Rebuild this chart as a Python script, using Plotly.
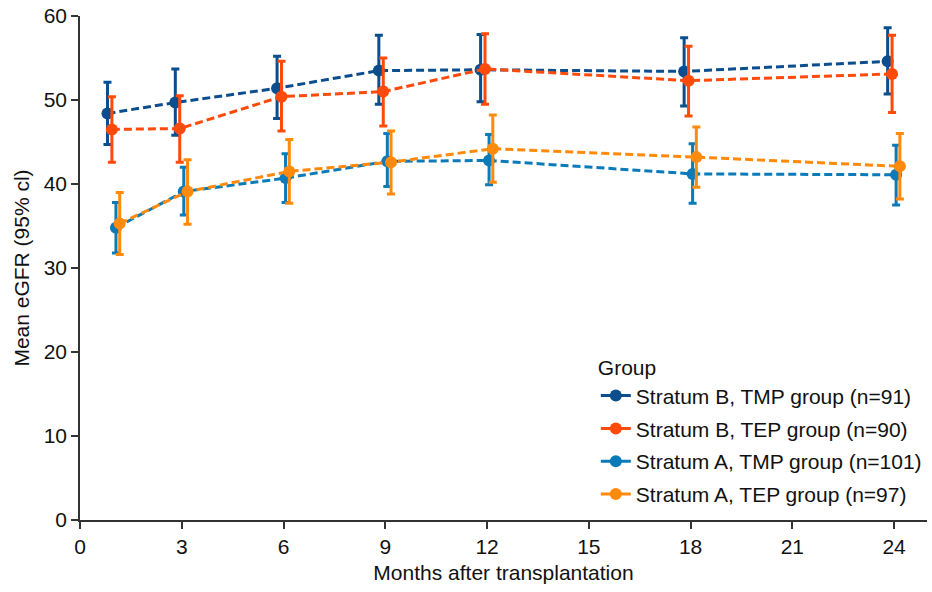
import plotly.graph_objects as go

months = [1, 3, 6, 9, 12, 18, 24]

groups = [
    "Stratum B, TMP group (n=91)",
    "Stratum B, TEP group (n=90)",
    "Stratum A, TMP group (n=101)",
    "Stratum A, TEP group (n=97)",
]

b_tmp_mean = [48.4, 49.7, 51.4, 53.5, 53.6, 53.4, 54.6]
b_tmp_low = [44.7, 45.8, 47.8, 49.5, 49.8, 49.3, 50.7]
b_tmp_high = [52.1, 53.7, 55.2, 57.7, 57.8, 57.4, 58.6]

b_tep_mean = [46.5, 46.6, 50.4, 51.0, 53.7, 52.3, 53.1]
b_tep_low = [42.6, 42.6, 46.3, 46.9, 49.5, 48.1, 48.5]
b_tep_high = [50.4, 50.5, 54.6, 55.0, 57.9, 56.4, 57.7]

a_tmp_mean = [34.8, 39.1, 40.7, 42.7, 42.8, 41.2, 41.1]
a_tmp_low = [31.8, 36.3, 37.8, 39.7, 39.9, 37.7, 37.5]
a_tmp_high = [37.8, 42.0, 43.6, 46.0, 45.9, 44.8, 44.6]

a_tep_mean = [35.3, 39.1, 41.5, 42.6, 44.2, 43.2, 42.1]
a_tep_low = [31.6, 35.2, 37.7, 38.8, 40.2, 39.6, 38.2]
a_tep_high = [39.0, 42.9, 45.3, 46.3, 48.2, 46.8, 46.0]

x_ticks = [0, 3, 6, 9, 12, 15, 18, 21, 24]
y_ticks = [0, 10, 20, 30, 40, 50, 60]

series = [
    (groups[0], b_tmp_mean, b_tmp_low, b_tmp_high, "#0b4e8e", -0.19),
    (groups[1], b_tep_mean, b_tep_low, b_tep_high, "#ff4a0a", -0.06),
    (groups[2], a_tmp_mean, a_tmp_low, a_tmp_high, "#0a7ab8", 0.06),
    (groups[3], a_tep_mean, a_tep_low, a_tep_high, "#ff8a0c", 0.17),
]

FONT = "Liberation Sans, Arial, sans-serif"
FS = 21

fig = go.Figure()
for i, (name, mean, low, high, color, off) in enumerate(series):
    xs = [m + off for m in months]
    fig.add_trace(go.Scatter(
        x=xs, y=mean, mode="lines+markers", name=name, showlegend=False,
        line=dict(color=color, width=3, dash="8px,4px"),
        marker=dict(color=color, size=12),
        error_y=dict(type="data", symmetric=False,
                     array=[h - m for h, m in zip(high, mean)],
                     arrayminus=[m - l for m, l in zip(mean, low)],
                     color=color, thickness=3, width=4),
    ))
for i, (name, mean, low, high, color, off) in enumerate(series):
    fig.add_trace(go.Scatter(
        x=[None], y=[None], mode="lines+markers", name=name,
        legendgroup=f"g{i}",
        line=dict(color=color, width=3),
        marker=dict(color=color, size=12),
    ))

fig.update_layout(
    width=932, height=592,
    margin=dict(l=80, r=5, t=16, b=72),
    plot_bgcolor="white", paper_bgcolor="white",
    font=dict(family=FONT, size=FS, color="#111111"),
    showlegend=True,
    legend=dict(
        title=dict(text="Group", font=dict(size=FS)),
        x=0.609, y=0.341, xanchor="left", yanchor="top",
        font=dict(size=FS), tracegroupgap=2.5,
        bgcolor="rgba(0,0,0,0)", itemwidth=30,
    ),
    xaxis=dict(
        range=[0, 24.97], tickvals=x_ticks, ticktext=[str(t) for t in x_ticks],
        showline=True, linecolor="#333333", linewidth=1.5,
        ticks="outside", ticklen=7, tickwidth=1.5, tickcolor="#333333",
        showgrid=False, zeroline=False,
        title=dict(text="Months after transplantation", font=dict(size=FS), standoff=8),
    ),
    yaxis=dict(
        range=[0, 60], tickvals=y_ticks,
        showline=True, linecolor="#333333", linewidth=1.5,
        ticks="outside", ticklen=7, tickwidth=1.5, tickcolor="#333333",
        showgrid=False, zeroline=False,
        title=dict(text="Mean eGFR (95% cl)", font=dict(size=FS), standoff=8),
    ),
)

fig.write_html("out.html")
